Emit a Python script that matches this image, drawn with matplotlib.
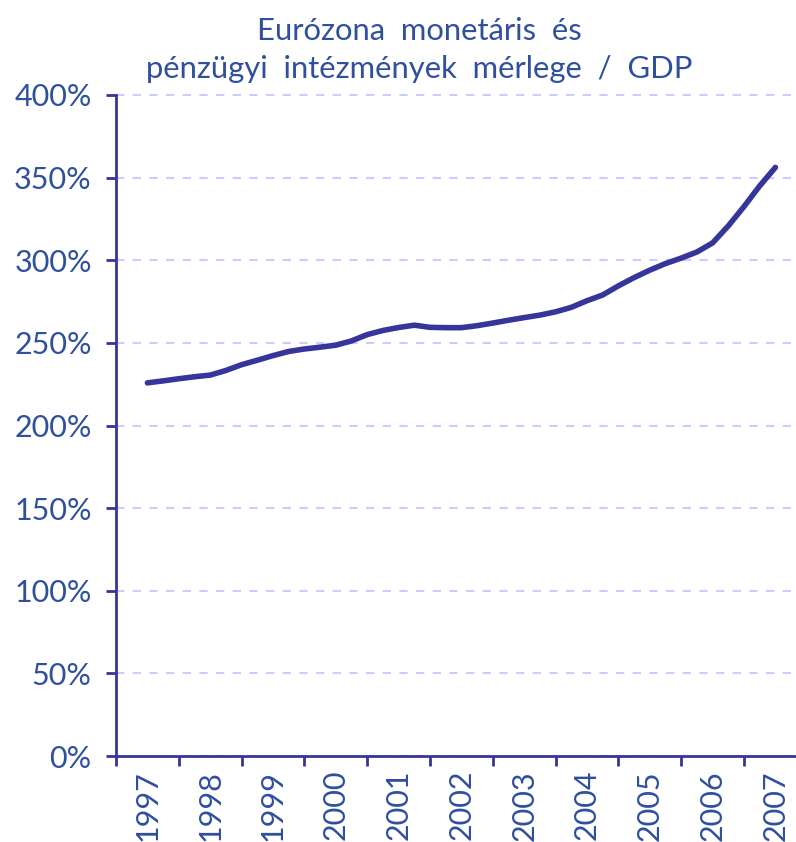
import numpy as np
import matplotlib.pyplot as plt
from matplotlib.ticker import FixedLocator, NullFormatter, FixedFormatter

# quarterly observations, 1997 Q1 .. 2007 Q1
quarters = [1997 + 0.25 * i for i in range(41)]
ratio = [225.8, 227.0, 228.3, 229.5, 230.5, 233.3, 236.8, 239.5,
         242.3, 244.8, 246.3, 247.4, 248.6, 251.2, 255.0, 257.5,
         259.3, 260.7, 259.4, 259.2, 259.2, 260.4, 262.0, 263.7,
         265.3, 266.8, 268.8, 271.5, 275.5, 279.0, 284.5, 289.5,
         294.0, 298.0, 301.3, 305.0, 310.5, 320.8, 332.5, 345.0,
         356.2]
years = [1997, 1998, 1999, 2000, 2001, 2002, 2003, 2004, 2005, 2006, 2007]
y_ticks = [0, 50, 100, 150, 200, 250, 300, 350, 400]

title = "Eurózona  monetáris  és\npénzügyi  intézmények  mérlege  /  GDP"

line_col = "#35359b"
text_col = "#2f4f9f"
grid_col = "#ccccff"

plt.rcParams['font.family'] = ['Lato', 'DejaVu Sans']

fig = plt.figure(figsize=(7.96, 8.42), dpi=100)
ax = fig.add_axes([116 / 796, 86 / 842, 680 / 796, 661 / 842])

ax.plot(quarters, ratio, color=line_col, lw=4, solid_capstyle='round',
        solid_joinstyle='round', zorder=3)

ax.set_ylim(0, 400)
ax.set_xlim(1996.5, 1996.5 + 680 / 62.8)

ax.set_yticks(y_ticks)
ax.set_yticklabels([f"{v}%" for v in y_ticks])
ax.yaxis.grid(True, color=grid_col, linestyle=(0, (4, 4)), lw=1.5)
for gl in ax.get_ygridlines():
    gl.set_clip_on(False)
ax.set_axisbelow(True)

# year boundaries as tick marks, labels in the middle of each year
ax.xaxis.set_major_locator(FixedLocator([y - 0.5 for y in years]))
ax.xaxis.set_major_formatter(NullFormatter())
ax.xaxis.set_minor_locator(FixedLocator(years))
ax.xaxis.set_minor_formatter(FixedFormatter([str(y) for y in years]))
ax.tick_params(axis='x', which='major', length=7, width=2, color=line_col)
ax.tick_params(axis='x', which='minor', length=0, pad=10,
               labelsize=22, labelcolor=text_col, labelrotation=90)
ax.tick_params(axis='y', length=7.5, width=2, color=line_col, pad=10,
               labelsize=22, labelcolor=text_col)
for lbl in ax.get_xticklabels(minor=True):
    lbl.set_va('top')

for s in ['top', 'right']:
    ax.spines[s].set_visible(False)
for s in ['left', 'bottom']:
    ax.spines[s].set_color(line_col)
    ax.spines[s].set_linewidth(2)

fig.text(419 / 796, 1 - 50 / 842, title, ha='center', va='center',
         fontsize=22.3, color=text_col, linespacing=1.4)

fig.savefig("out.png", dpi=100)
